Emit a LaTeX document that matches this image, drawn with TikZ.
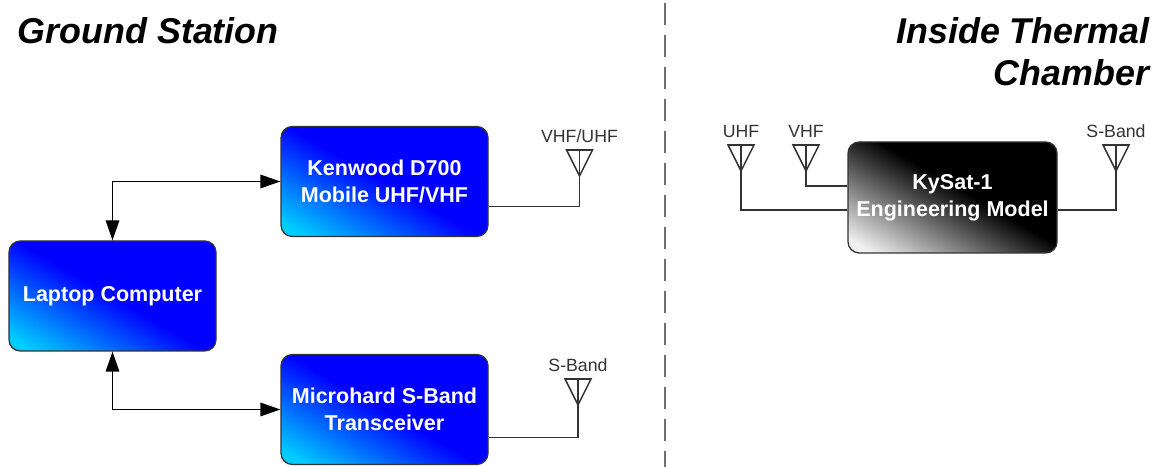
\documentclass[tikz,border=0pt]{standalone}
\usepackage{fontspec}
\setmainfont{Liberation Sans}
\usetikzlibrary{arrows.meta, positioning, calc}
\definecolor{cblue}{HTML}{0000FF}
\definecolor{ccyan}{HTML}{00CCFF}
\definecolor{cpale}{HTML}{F0F0F0}
\definecolor{cline}{HTML}{333333}
\definecolor{cdash}{HTML}{707070}
\pgfdeclareverticalshading{bluefade}{100bp}{color(0bp)=(ccyan); color(20bp)=(ccyan); color(50bp)=(cblue); color(100bp)=(cblue)}
\pgfdeclareverticalshading{greyfade}{100bp}{color(0bp)=(cpale); color(20bp)=(cpale); color(54bp)=(black); color(100bp)=(black)}
\tikzset{
  every picture/.style={line width=0.9pt},
  box/.style={draw=cline, rounded corners=8pt, align=center, text=white, minimum width=5.175cm, minimum height=2.75cm, inner sep=0pt,
    font=\fontsize{15.3}{19.5}\selectfont\bfseries, shading=#1, shading angle=-30},
  box/.default=bluefade,
  arrow/.style={{Triangle[length=5mm, width=3.4mm]}-{Triangle[length=5mm, width=3.4mm]}, draw=black},
  wire/.style={draw=cline},
  title/.style={font=\fontsize{25.5}{30.4}\selectfont\bfseries\itshape},
  bandlabel/.style={font=\fontsize{12.6}{14}\selectfont, text=cline, inner sep=0pt, anchor=base},
}
\begin{document}
\begin{tikzpicture}
  \useasboundingbox (0,0) rectangle (28.925,11.675);
  % ---------- titles and divider ----------
  \node[title, anchor=base west, inner sep=0pt] (ground) at (0.43, 10.575) {Ground Station};
  \node[title, anchor=north east, align=right, inner sep=0pt] (chamber) at (28.75, 11.26) {Inside Thermal\\Chamber};
  \coordinate (divtop) at (16.625, 11.6);
  \coordinate (divbot) at (16.625, 0);
  \draw[cdash, line width=1.8pt, dash pattern=on 0.55cm off 0.25cm] (divtop) -- (divbot);
  % ---------- ground station ----------
  \node[box] (laptop) at (2.8125, 4.275) {Laptop Computer};
  \node[box] (kenwood) at (9.6125, 7.1375) {Kenwood D700\\Mobile UHF/VHF};
  \node[box] (microhard) at (9.6125, 1.4375) {Microhard S-Band\\Transceiver};
  \draw[arrow] (laptop.north) |- (kenwood.west);
  \draw[arrow] (laptop.south) |- (microhard.west);
  % ---------- thermal chamber ----------
  \node[box=greyfade, minimum width=5.225cm, minimum height=2.775cm] (kysat) at (23.8125, 6.7375) {KySat-1\\Engineering Model};
  % ---------- antennas ----------
  \foreach \name/\x/\y/\l in {antvu/14.4875/7.275/VHF\slash UHF, antsl/14.45/1.55/S-Band, antu/18.525/7.4/UHF, antv/20.15/7.4/VHF, antsr/27.9/7.4/S-Band} {
    \coordinate (\name) at (\x, \y);
    \draw[wire, line width=1.1pt] (\name) -- ++(-0.325, 0.65) -- ++(0.65, 0) -- cycle;
    \draw[wire] (\name) -- ++(0, 0.65);
    \node[bandlabel] (\name label) at ($(\name) + (0, 0.825)$) {\l};
  }
  \draw[wire] (antvu) |- ([yshift=-0.625cm]kenwood.east);
  \draw[wire] (antsl) |- ([yshift=-0.7cm]microhard.east);
  \draw[wire] (antu) |- ([yshift=-0.3125cm]kysat.west);
  \draw[wire] (antv) |- ([yshift=0.2875cm]kysat.west);
  \draw[wire] (antsr) |- ([yshift=-0.3125cm]kysat.east);
\end{tikzpicture}
\end{document}
